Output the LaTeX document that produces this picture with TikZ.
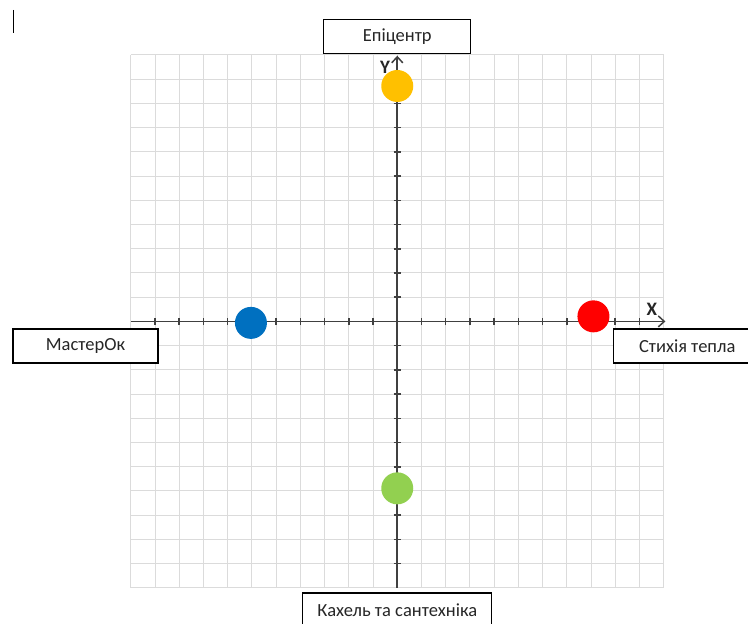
\documentclass[tikz,border=0pt]{standalone}
\usepackage{fontspec}
\setmainfont{Carlito}
\usetikzlibrary{arrows.meta,positioning}
\definecolor{epiyellow}{HTML}{FFC000}
\definecolor{heatred}{HTML}{FF0000}
\definecolor{masterblue}{HTML}{0070C0}
\definecolor{tilegreen}{HTML}{92D050}
\tikzset{%
  brand/.style={draw, line width=1.4pt, fill=white, text=black!85, font=\fontsize{18.5}{22}\selectfont, minimum height=34pt, inner sep=0pt},
  brandpoint/.style={circle, minimum size=32pt, inner sep=0pt},
  gridline/.style={draw, line width=1pt, color=black!14},
  axis/.style={draw, line width=1.8pt, color=black!75, -{Straight Barb[length=6pt,width=11pt,line width=1.5pt]}},
  tick/.style={draw, line width=1.6pt, color=black!75},
  axislabel/.style={font=\bfseries\fontsize{19}{22}\selectfont, text=black!85, inner sep=0pt},
}

\begin{document}
\begin{tikzpicture}[x=24.22pt, y=24.22pt]
  \useasboundingbox (-16.40,-12.45) rectangle (14.48,13.27);
  \clip (-16.40,-12.45) rectangle (14.48,13.27);

  % grid
  \foreach \i in {-11,...,11} {
    \path [gridline] (\i,-11) -- (\i,11);
    \path [gridline] (-11,\i) -- (11,\i);
  }

  % axes
  \coordinate (xl) at (-11,0);
  \coordinate (xr) at (11.07,0);
  \coordinate (yb) at (0,-11);
  \coordinate (yt) at (0,10.97);
  \path [axis] (xl) -- (xr);
  \path [axis] (yb) -- (yt);
  \foreach \i in {-10,...,-1,1,2,...,10} {
    \path [tick] (\i,-0.15) -- (\i,0.15);
    \path [tick] (-0.15,\i) -- (0.15,\i);
  }
  \node (xlab) [axislabel] at (10.51,0.52) {X};
  \node (ylab) [axislabel] at (-0.50,10.47) {Y};

  % points
  \node (pe) [brandpoint, fill=epiyellow] at (0,9.72) {};
  \node (ph) [brandpoint, fill=heatred] at (8.10,0.21) {};
  \node (pm) [brandpoint, fill=masterblue] at (-6.04,-0.06) {};
  \node (pt) [brandpoint, fill=tilegreen] at (0,-6.89) {};

  % labels
  \node (epi) [brand, minimum width=147pt] at (0,11.77) {Епіцентр};
  \node (master) [brand, minimum width=145pt] at (-12.87,-1.01) {МастерОк};
  \node (heat) [brand, minimum width=147pt] at (11.97,-1.01) {Стихія тепла};
  \node (tile) [brand, minimum width=189pt] at (0,-11.92) {Кахель та сантехніка};

  % cursor
  \coordinate (c1) at (-15.86,12.86);
  \coordinate (c2) at (-15.86,11.91);
  \draw [line width=1pt] (c1) -- (c2);
\end{tikzpicture}
\end{document}
